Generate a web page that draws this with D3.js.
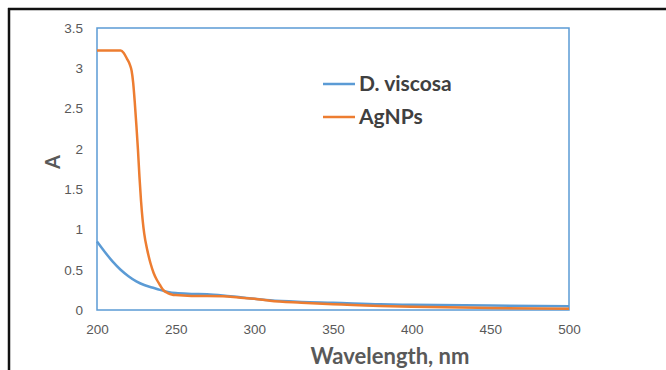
<!DOCTYPE html>
<html>
<head>
<meta charset="utf-8">
<script src="https://cdn.jsdelivr.net/npm/d3@7"></script>
<style>
    body { margin: 0; background: #fff; }
    svg { display: block; font-family: Lato, "Open Sans", sans-serif; }
    .tick text { fill: #595959; font-size: 13.5px; }
</style>
</head>
<body>
<div id="chart"></div>
<script>

// wavelength (nm) and absorbance
let viscosaWl = [200, 205, 210, 215, 220, 225, 230, 235, 240, 245, 250, 260, 270, 280, 290, 300, 310, 330, 350, 380, 400, 450, 500];
let viscosaA  = [0.85, 0.72, 0.60, 0.50, 0.42, 0.355, 0.31, 0.28, 0.25, 0.225, 0.21, 0.20, 0.195, 0.18, 0.16, 0.14, 0.12, 0.10, 0.09, 0.07, 0.065, 0.055, 0.048];

let agWl = [200, 205, 210, 215, 217, 219, 221, 222, 223, 224, 225, 226, 227, 228, 229, 230, 232, 234, 236, 238, 240, 242, 245, 248, 250, 260, 270, 280, 290, 300, 310, 330, 350, 380, 400, 450, 500];
let agA  = [3.22, 3.22, 3.22, 3.22, 3.19, 3.12, 3.04, 2.97, 2.82, 2.58, 2.3, 2.0, 1.65, 1.35, 1.12, 0.95, 0.74, 0.58, 0.46, 0.375, 0.31, 0.25, 0.21, 0.19, 0.185, 0.175, 0.175, 0.17, 0.155, 0.14, 0.115, 0.09, 0.07, 0.05, 0.04, 0.025, 0.015];

let xTicks = [200, 250, 300, 350, 400, 450, 500];
let yTicks = [0, 0.5, 1, 1.5, 2, 2.5, 3, 3.5];

let seriesNames = ["D. viscosa", "AgNPs"];
let seriesColors = ["#5b9bd5", "#ed7d31"];

let width = 666, height = 370;
let plot = {left: 97, right: 569, top: 28, bottom: 310};

let svg = d3.select("#chart").append("svg")
    .attr("width", width)
    .attr("height", height);

// outer black frame (cropped picture border)
svg.append("line")
    .attr("x1", 8).attr("y1", 9).attr("x2", width).attr("y2", 9)
    .attr("stroke", "#111").attr("stroke-width", 2.5);
svg.append("line")
    .attr("x1", 9).attr("y1", 8).attr("x2", 9).attr("y2", height)
    .attr("stroke", "#111").attr("stroke-width", 2.5);

let x = d3.scaleLinear().domain([200, 500]).range([plot.left, plot.right]);
let y = d3.scaleLinear().domain([0, 3.5]).range([plot.bottom, plot.top]);

// axes, no ticks or domain line
svg.append("g")
    .attr("transform", `translate(0, ${plot.bottom})`)
    .call(d3.axisBottom(x).tickValues(xTicks).tickSize(0).tickPadding(14).tickFormat(d3.format("d")))
    .call(g => g.select(".domain").remove());

svg.append("g")
    .attr("transform", `translate(${plot.left}, 0)`)
    .call(d3.axisLeft(y).tickValues(yTicks).tickSize(0).tickPadding(14).tickFormat(d => d))
    .call(g => g.select(".domain").remove());

svg.selectAll(".tick text").attr("font-family", null).attr("font-size", null);

// plot area border
svg.append("rect")
    .attr("x", plot.left).attr("y", plot.top)
    .attr("width", plot.right - plot.left)
    .attr("height", plot.bottom - plot.top)
    .attr("fill", "none")
    .attr("stroke", "#5b9bd5")
    .attr("stroke-width", 1.5);

let line = d3.line()
    .x(d => x(d[0]))
    .y(d => y(d[1]))
    .curve(d3.curveMonotoneX);

let series = [
    d3.zip(viscosaWl, viscosaA),
    d3.zip(agWl, agA)
];

series.forEach((s, i) => {
    svg.append("path")
        .datum(s)
        .attr("fill", "none")
        .attr("stroke", seriesColors[i])
        .attr("stroke-width", 2.5)
        .attr("d", line);
});

// axis titles
svg.append("text")
    .attr("x", 390).attr("y", 364)
    .attr("text-anchor", "middle")
    .attr("fill", "#595959")
    .attr("font-weight", "bold")
    .attr("font-size", 22)
    .text("Wavelength, nm");

svg.append("text")
    .attr("transform", "translate(60, 162) rotate(-90)")
    .attr("text-anchor", "middle")
    .attr("fill", "#595959")
    .attr("font-weight", "bold")
    .attr("font-size", 20)
    .text("A");

// legend
let legend = svg.append("g").attr("transform", "translate(323, 84)");
seriesNames.forEach((name, i) => {
    let row = legend.append("g").attr("transform", `translate(0, ${i * 33})`);
    row.append("line")
        .attr("x1", 0).attr("x2", 32)
        .attr("stroke", seriesColors[i])
        .attr("stroke-width", 2.5);
    row.append("text")
        .attr("x", 36).attr("dy", "0.35em")
        .attr("fill", "#404040")
        .attr("font-weight", "bold")
        .attr("font-size", 21)
        .text(name);
});

</script>
</body>
</html>
